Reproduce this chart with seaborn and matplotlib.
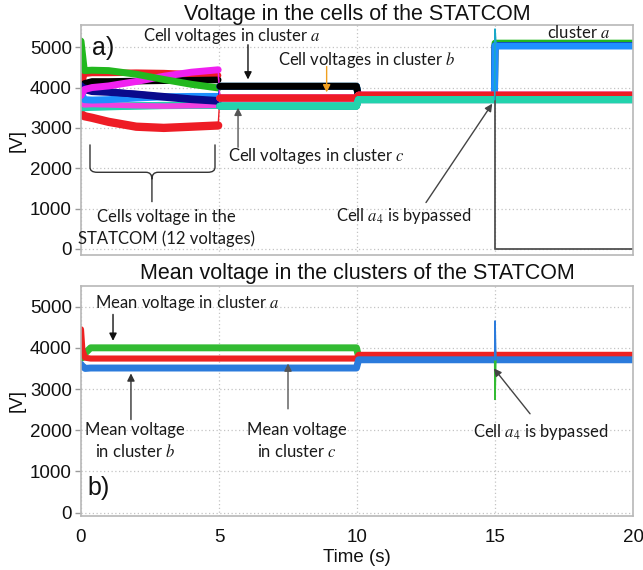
import matplotlib
matplotlib.use("Agg")
import matplotlib.pyplot as plt
import seaborn as sns
from matplotlib.path import Path
from matplotlib.patches import PathPatch

# ---------------------------------------------------------------------------
# Cell voltages of the STATCOM (panel a), breakpoints in seconds
cell_time = [0.0, 0.12, 0.4, 1.0, 2.0, 3.0, 4.0, 4.97, 5.03, 9.98, 10.05, 14.98, 15.0, 15.1, 20.0]

# cluster a cells [V]
cell_a1 = [5150, 4420, 4430, 4420, 4330, 4200, 4080, 3990, 4030, 4030, 3800, 3800, 5100, 5100, 5100]
cell_a2 = [4000, 3990, 3950, 3900, 3830, 3760, 3700, 3660, 4030, 4030, 3800, 3800, 5040, 5040, 5040]
cell_a3 = [3900, 3700, 3690, 3700, 3740, 3770, 3780, 3780, 4030, 4030, 3800, 3800, 5040, 5030, 5030]
cell_a4 = [3900, 4100, 4150, 4150, 4160, 4170, 4180, 4190, 4030, 4030, 3800, 3800]
# cluster b cells [V]
cell_b1 = [3800, 3950, 4000, 4040, 4150, 4280, 4380, 4440, 3740, 3740, 3810, 3810, 3810, 3810, 3810]
cell_b2 = [3600, 3570, 3580, 3570, 3550, 3540, 3550, 3560, 3740, 3740, 3810, 3810, 3810, 3810, 3810]
cell_b3 = [4000, 4340, 4360, 4360, 4370, 4360, 4330, 4300, 3740, 3740, 3810, 3810, 3810, 3810, 3810]
cell_b4 = [3350, 3290, 3250, 3150, 3030, 3000, 3030, 3060, 3740, 3740, 3810, 3810, 3810, 3810, 3810]
# cluster c cells [V]
cell_c1 = [4050, 3950, 3900, 3880, 3840, 3780, 3720, 3680, 3540, 3540, 3700, 3700, 3700, 3700, 3700]
cell_c2 = [3500, 3500, 3510, 3520, 3540, 3550, 3555, 3555, 3540, 3540, 3700, 3700, 3700, 3700, 3700]
cell_c3 = [3700, 3540, 3530, 3540, 3550, 3560, 3560, 3560, 3540, 3540, 3700, 3700, 3700, 3700, 3700]
cell_c4 = [3600, 3520, 3520, 3530, 3545, 3555, 3560, 3560, 3540, 3540, 3700, 3700, 3700, 3700, 3700]

cell_names = ["a1", "a2", "a3", "a4", "b1", "b2", "b3", "b4", "c1", "c2", "c3", "c4"]
cell_colors = ["#22b81e", "#0a0a8c", "#1e90ff", "#000000",
               "#f020f0", "#f040e0", "#ee1c25", "#ee1c25",
               "#0a0a8c", "#22d3ad", "#22d3ad", "#22d3ad"]
cell_widths = [5, 5, 5, 4.8, 5, 4, 4.6, 6, 5, 5, 5, 5]

# bypassed cell a4 after t = 15 s
a4_bypass_time = [15.0, 15.0, 20.0]
a4_bypass_volt = [3800, 0, 0]
# switching transient at the bypass instant
top_spike_time = [14.99, 15.0, 15.03]
top_spike_volt = [3700, 5450, 5100]

# ---------------------------------------------------------------------------
# Mean cluster voltages (panel b)
mean_time = [0.0, 0.05, 0.15, 0.35, 9.98, 10.06, 20.0]
mean_a = [3750, 3760, 3870, 4000, 4000, 3780, 3780]
mean_b = [4450, 3950, 3760, 3740, 3740, 3830, 3830]
mean_c = [3600, 3560, 3500, 3510, 3510, 3710, 3710]
mean_colors = ["#33bb33", "#ee2222", "#2b7bdc"]
mean_widths = [5, 4.4, 5]

spike_time = [14.99, 15.0, 15.03]
spike_a = [3780, 2750, 3780]
spike_b = [3830, 3980, 3830]
spike_c = [3710, 4650, 3710]
spike_colors = ["#33bb33", "#c07020", "#2b7bdc"]

x_ticks = [0, 5, 10, 15, 20]
y_ticks = [0, 1000, 2000, 3000, 4000, 5000]

# ---------------------------------------------------------------------------
sns.set_theme(style="white")
plt.rcParams["font.family"] = ["Liberation Sans", "DejaVu Sans"]
plt.rcParams["mathtext.fontset"] = "stix"

NOTE_FONT = ["Lato", "DejaVu Sans"]
NOTE_SIZE = 12
TICK_SIZE = 13.5
TITLE_SIZE = 15.5

fig = plt.figure(figsize=(6.43, 5.70), dpi=100)
ax_top = fig.add_axes([81 / 643, 1 - 255 / 570, 552 / 643, 230 / 570])
ax_bot = fig.add_axes([81 / 643, 1 - 516 / 570, 552 / 643, 230 / 570])


def style_axes(ax, ylim, show_x):
    ax.set_xlim(0, 20)
    ax.set_ylim(*ylim)
    ax.set_xticks(x_ticks)
    ax.set_yticks(y_ticks)
    ax.grid(True, color="#c4c4c4", linestyle=(0, (1, 2)), linewidth=0.9)
    ax.set_axisbelow(True)
    for sp in ax.spines.values():
        sp.set_color("#b8b8b8")
        sp.set_linewidth(1.2)
    ax.tick_params(axis="y", left=True, length=4.5, width=1, color="#9a9a9a",
                   pad=2, labelsize=TICK_SIZE, labelcolor="#111111")
    ax.tick_params(axis="x", bottom=False, length=0, pad=9,
                   labelsize=TICK_SIZE, labelcolor="#111111",
                   labelbottom=show_x)
    ax.set_ylabel("[V]", fontsize=TICK_SIZE, color="#111111")
    ax.yaxis.set_label_coords(-0.1, 0.5)
    ax.set_xlabel("")


def trace(ax, t, v, color, lw):
    sns.lineplot(x=t, y=v, ax=ax, color=color, linewidth=lw,
                 sort=False, estimator=None)


# ---- panel a: individual cell voltages
cells = dict(zip(cell_names, [cell_a1, cell_a2, cell_a3, cell_a4, cell_b1, cell_b2,
                              cell_b3, cell_b4, cell_c1, cell_c2, cell_c3, cell_c4]))
colors = dict(zip(cell_names, cell_colors))
widths = dict(zip(cell_names, cell_widths))

# start-up interval (0-5 s): unbalanced cells, drawn back to front
SPLIT = 7
startup_order = ["b3", "a4", "b4", "c2", "c3", "c4", "b2", "a3", "c1", "a2", "b1", "a1"]
for name in startup_order:
    trace(ax_top, cell_time[:SPLIT + 1], cells[name][:SPLIT + 1], colors[name], widths[name])
# fast equalisation step at t = 5 s
for name in startup_order:
    trace(ax_top, cell_time[SPLIT:SPLIT + 2], cells[name][SPLIT:SPLIT + 2], colors[name], 1.0)
# balanced operation (5-20 s): cluster a, then b, then c
for name in ["a1", "a2", "a3", "a4", "b1", "b2", "b4", "b3", "c1", "c2", "c3", "c4"]:
    vals = cells[name]
    trace(ax_top, cell_time[SPLIT + 1:len(vals)], vals[SPLIT + 1:], colors[name], 5)
trace(ax_top, a4_bypass_time, a4_bypass_volt, "#505050", 1.3)
trace(ax_top, top_spike_time, top_spike_volt, "#1aa8c8", 1.2)
style_axes(ax_top, (-150, 5550), show_x=False)
ax_top.set_title("Voltage in the cells of the STATCOM", fontsize=TITLE_SIZE,
                 color="#111111", pad=3)

# ---- panel b: mean cluster voltages
for vals, col, lw in zip([mean_a, mean_b, mean_c], mean_colors, mean_widths):
    trace(ax_bot, mean_time, vals, col, lw)
for vals, col in zip([spike_a, spike_b, spike_c], spike_colors):
    trace(ax_bot, spike_time, vals, col, 1.2)
style_axes(ax_bot, (-80, 5500), show_x=True)
ax_bot.set_title("Mean voltage in the clusters of the STATCOM",
                 fontsize=TITLE_SIZE, color="#111111", pad=5)
ax_bot.set_xlabel("Time (s)", fontsize=TICK_SIZE, color="#111111")
ax_bot.xaxis.set_label_coords(0.5, -0.145)

ARROW = dict(arrowstyle="-|>", lw=1.0, mutation_scale=11, shrinkA=0, shrinkB=0)


def note(ax, text, xy, **kw):
    ax.text(*xy, text, family=NOTE_FONT, fontsize=NOTE_SIZE, color="#1a1a1a", **kw)


def arrow(ax, tail, head, color):
    ax.annotate("", xy=head, xytext=tail, arrowprops=dict(ARROW, color=color))


# panel a annotations
ax_top.text(0.4, 4990, "a)", fontsize=18, color="#111111", va="center")
note(ax_top, "Cell voltages in cluster $a$", (2.25, 5280), ha="left", va="center")
arrow(ax_top, (6.05, 5060), (6.05, 4200), "#111111")
note(ax_top, "Cell voltages in cluster $b$", (7.14, 4690), ha="left", va="center")
arrow(ax_top, (8.9, 4520), (8.9, 3880), "#f0a020")
note(ax_top, "Cell voltages in cluster $c$", (5.33, 2300), ha="left", va="center")
arrow(ax_top, (5.69, 2520), (5.69, 3500), "#555555")
note(ax_top, "Cells voltage in the\nSTATCOM (12 voltages)", (3.1, 520),
     ha="center", va="center", multialignment="center", linespacing=1.35)
note(ax_top, "Cell $a_4$ is bypassed", (11.7, 815), ha="center", va="center")
arrow(ax_top, (12.5, 1150), (14.9, 3600), "#444444")
note(ax_top, "cluster $a$", (18.04, 5360), ha="center", va="center")

# curly brace grouping the twelve cell voltages
brace_verts = [(0.326, 2590), (0.326, 2025), (0.326, 1900), (0.58, 1900),
               (2.355, 1900), (2.57, 1900), (2.57, 1730), (2.57, 1160),
               (2.57, 1730), (2.57, 1900), (2.79, 1900), (4.6, 1900),
               (4.855, 1900), (4.855, 2025), (4.855, 2590)]
brace_codes = [Path.MOVETO, Path.LINETO, Path.CURVE3, Path.CURVE3,
               Path.LINETO, Path.CURVE3, Path.CURVE3, Path.LINETO,
               Path.MOVETO, Path.CURVE3, Path.CURVE3, Path.LINETO,
               Path.CURVE3, Path.CURVE3, Path.LINETO]
ax_top.add_patch(PathPatch(Path(brace_verts, brace_codes), facecolor="none",
                           edgecolor="#333333", lw=1.0))

# panel b annotations
ax_bot.text(0.25, 600, "b)", fontsize=18, color="#111111", va="center")
note(ax_bot, "Mean voltage in cluster $a$", (0.51, 5095), ha="left", va="center")
arrow(ax_bot, (1.16, 4810), (1.16, 4170), "#111111")
note(ax_bot, "Mean voltage\nin cluster $b$", (1.96, 1740), ha="center",
     va="center", multialignment="center", linespacing=1.35)
arrow(ax_bot, (1.81, 2260), (1.81, 3380), "#333333")
note(ax_bot, "Mean voltage\nin cluster $c$", (7.83, 1740), ha="center",
     va="center", multialignment="center", linespacing=1.35)
arrow(ax_bot, (7.5, 2520), (7.5, 3620), "#555555")
note(ax_bot, "Cell $a_4$ is bypassed", (16.67, 1950), ha="center", va="center")
arrow(ax_bot, (16.27, 2400), (14.96, 3500), "#444444")

fig.savefig("out.png", dpi=100)
